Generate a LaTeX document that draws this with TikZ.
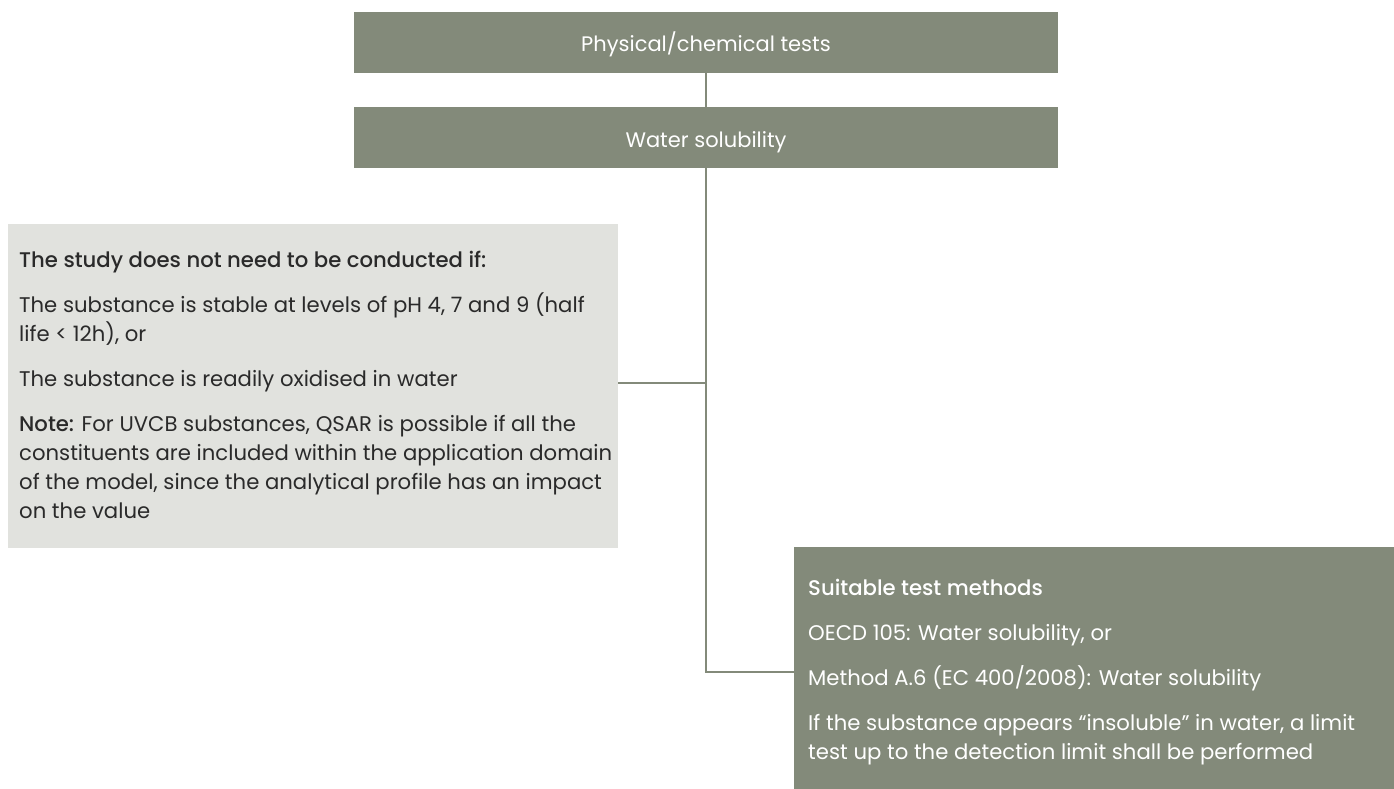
\documentclass[tikz,border=0pt]{standalone}
\usepackage{fontspec}
\setmainfont{Poppins}
% medium weight for the headings, plain bold where it is missing
\IfFontExistsTF{Poppins Medium}
  {\newfontfamily\mediumfont{Poppins Medium}}
  {\newcommand\mediumfont{\bfseries}}
\definecolor{sage}{HTML}{838A7A}
\definecolor{mist}{HTML}{E1E2DE}
\definecolor{ink}{HTML}{2A2A2A}
% paragraphs set in a top-aligned box, so the node's baseline is the first line
\newcommand\flowtext[1]{\vtop{\hsize=700pt\parindent=0pt\baselineskip=29pt\parskip=16pt\raggedright #1\par}}
\begin{document}
\begin{tikzpicture}[x=1pt,y=-1pt,
  darkbox/.style={fill=sage, anchor=north west, inner sep=0pt, outer sep=0pt},
  lightbox/.style={fill=mist, anchor=north west, inner sep=0pt, outer sep=0pt},
  bodytext/.style={anchor=base west, inner sep=0pt, font=\fontsize{21.2}{29}\selectfont},
  headtext/.style={text=white, font=\fontsize{21}{25}\selectfont},
  link/.style={draw=sage, line width=2.5pt}]
\useasboundingbox (0,0) rectangle (1394,789);

% header boxes
\node[darkbox, minimum width=704pt, minimum height=61pt] (phys) at (354,12) {};
\node[headtext, anchor=base] (physlabel) at (706,52) {Physical/chemical tests};
\node[darkbox, minimum width=704pt, minimum height=61pt] (water) at (354,107) {};
\node[headtext, anchor=base] (waterlabel) at (706,147) {Water solubility};

% waiver box
\node[lightbox, minimum width=610pt, minimum height=324pt] (waiver) at (8,224) {};
\node[bodytext, text=ink] (waivertext) at (19,267) {\flowtext{%
  {\mediumfont The study does not need to be conducted if:}\par
  The substance is stable at levels of pH 4, 7 and 9 (half\\
  life < 12h), or\par
  The substance is readily oxidised in water\par
  {\mediumfont Note:} For UVCB substances, QSAR is possible if all the\\
  constituents are included within the application domain\\
  of the model, since the analytical profile has an impact\\
  on the value}};

% test methods box
\node[darkbox, minimum width=600pt, minimum height=242pt] (methods) at (794,547) {};
\node[bodytext, text=white] (methodstext) at (808,595) {\flowtext{%
  {\mediumfont Suitable test methods}\par
  OECD 105: Water solubility, or\par
  Method A.6 (EC 400/2008): Water solubility\par
  If the substance appears “insoluble” in water, a limit\\
  test up to the detection limit shall be performed}};

% connectors
\coordinate (j1) at (706,383);
\coordinate (j2) at (706,672);
\draw[link] (phys.south) -- (water.north);
\draw[link] (water.south) -- (j2) -- (j2 -| methods.west);
\draw[link] (j1 -| waiver.east) -- (j1);
\end{tikzpicture}
\end{document}
